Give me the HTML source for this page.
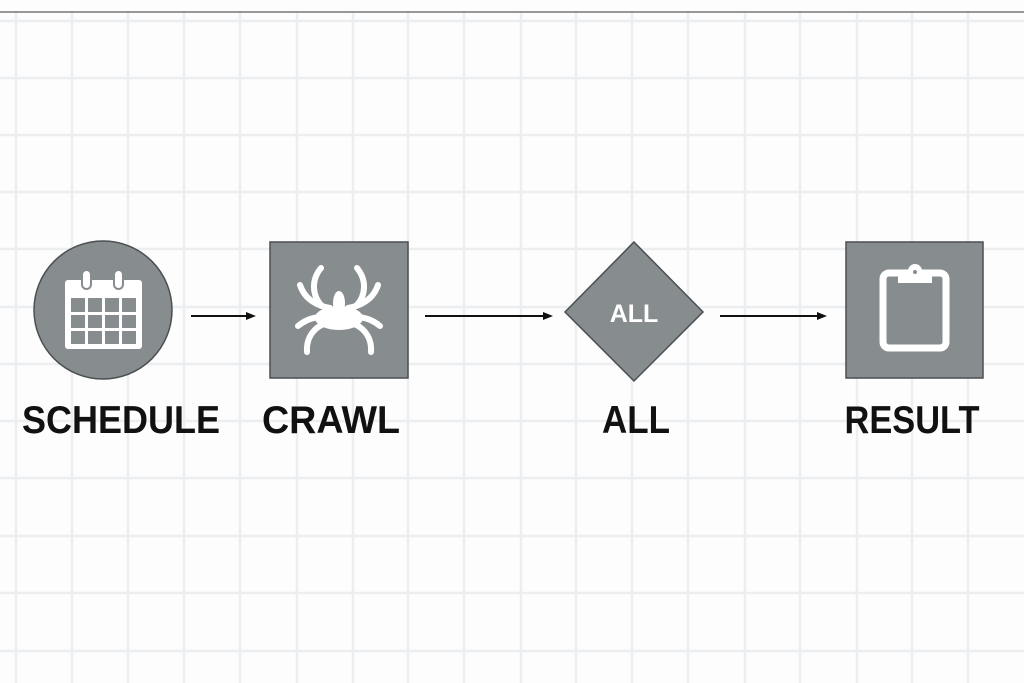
<!DOCTYPE html>
<html><head><style>
html,body{margin:0;padding:0;background:#fdfdfd;}
svg{display:block}
</style></head><body>
<svg width="1024" height="683" viewBox="0 0 1024 683" xmlns="http://www.w3.org/2000/svg">
<rect width="1024" height="683" fill="#fdfdfd"/>
<g stroke="#eceef0" stroke-width="2.5">
<line x1="16" y1="12" x2="16" y2="683"/><line x1="72" y1="12" x2="72" y2="683"/><line x1="128" y1="12" x2="128" y2="683"/><line x1="184" y1="12" x2="184" y2="683"/><line x1="240" y1="12" x2="240" y2="683"/><line x1="297" y1="12" x2="297" y2="683"/><line x1="353" y1="12" x2="353" y2="683"/><line x1="408" y1="12" x2="408" y2="683"/><line x1="464" y1="12" x2="464" y2="683"/><line x1="521" y1="12" x2="521" y2="683"/><line x1="576" y1="12" x2="576" y2="683"/><line x1="632" y1="12" x2="632" y2="683"/><line x1="688" y1="12" x2="688" y2="683"/><line x1="745" y1="12" x2="745" y2="683"/><line x1="800" y1="12" x2="800" y2="683"/><line x1="857" y1="12" x2="857" y2="683"/><line x1="912" y1="12" x2="912" y2="683"/><line x1="968" y1="12" x2="968" y2="683"/>
<line x1="0" y1="21" x2="1024" y2="21"/><line x1="0" y1="78" x2="1024" y2="78"/><line x1="0" y1="135" x2="1024" y2="135"/><line x1="0" y1="192" x2="1024" y2="192"/><line x1="0" y1="249" x2="1024" y2="249"/><line x1="0" y1="307" x2="1024" y2="307"/><line x1="0" y1="364" x2="1024" y2="364"/><line x1="0" y1="421" x2="1024" y2="421"/><line x1="0" y1="478" x2="1024" y2="478"/><line x1="0" y1="536" x2="1024" y2="536"/><line x1="0" y1="593" x2="1024" y2="593"/><line x1="0" y1="651" x2="1024" y2="651"/>
</g>
<line x1="0" y1="12" x2="1024" y2="12" stroke="#777" stroke-width="1.5"/>

<!-- schedule -->
<circle cx="103" cy="310" r="69" fill="#878d8f" stroke="#4a4f51" stroke-width="1.5"/>
<rect x="65" y="280" width="77" height="69" rx="3" fill="#fff"/>
<g fill="#878d8f">
<rect x="71" y="298" width="14" height="14"/><rect x="88" y="298" width="14" height="14"/><rect x="105" y="298" width="14" height="14"/><rect x="122" y="298" width="14" height="14"/>
<rect x="71" y="315" width="14" height="13"/><rect x="88" y="315" width="14" height="13"/><rect x="105" y="315" width="14" height="13"/><rect x="122" y="315" width="14" height="13"/>
<rect x="71" y="331" width="14" height="13"/><rect x="88" y="331" width="14" height="13"/><rect x="105" y="331" width="14" height="13"/><rect x="122" y="331" width="14" height="13"/>
</g>
<rect x="82" y="270" width="9" height="19" rx="4.5" fill="#fff" stroke="#878d8f" stroke-width="2"/>
<rect x="114" y="270" width="9" height="19" rx="4.5" fill="#fff" stroke="#878d8f" stroke-width="2"/>

<!-- crawl -->
<rect x="270" y="242" width="138" height="136" fill="#878d8f" stroke="#4a4f51" stroke-width="1.5"/>
<g fill="none" stroke="#fff" stroke-linecap="round">
<path d="M321 268 C311 280 312 296 322 306" stroke-width="6"/>
<path d="M357 268 C367 280 366 296 356 306" stroke-width="6"/>
<path d="M300 285 C305 300 318 306 330 308" stroke-width="6"/>
<path d="M378 285 C373 300 360 306 348 308" stroke-width="6"/>
<path d="M298 326 C310 316 322 316 332 318" stroke-width="6"/>
<path d="M380 326 C368 316 356 316 346 318" stroke-width="6"/>
<path d="M307 352 C306 336 316 324 332 322" stroke-width="6"/>
<path d="M371 352 C372 336 362 324 346 322" stroke-width="6"/>
</g>
<ellipse cx="339" cy="303" rx="6" ry="12" fill="#fff"/>
<ellipse cx="339" cy="318" rx="24" ry="12" fill="#fff"/>

<!-- all diamond -->
<polygon points="634,242 703,312 634,381 565,312" fill="#878d8f" stroke="#4a4f51" stroke-width="1.5"/>
<text x="634" y="322" text-anchor="middle" font-family="Liberation Sans, sans-serif" font-weight="bold" font-size="25" fill="#fff">ALL</text>

<!-- result -->
<rect x="846" y="242" width="137" height="136" fill="#878d8f" stroke="#4a4f51" stroke-width="1.5"/>
<rect x="883" y="273" width="63" height="75" rx="6" fill="none" stroke="#fff" stroke-width="7"/>
<path d="M898 271 h10 a7 7 0 0 1 14 0 h10 v12 h-34 z" fill="#fff"/>
<circle cx="915" cy="272" r="2" fill="#878d8f"/>

<!-- arrows -->
<g stroke="#111" stroke-width="2">
<line x1="191" y1="316" x2="248" y2="316"/>
<line x1="425" y1="316" x2="545" y2="316"/>
<line x1="720" y1="316" x2="819" y2="316"/>
</g>
<g fill="#111">
<polygon points="256,316 246,312 246,320"/>
<polygon points="553,316 543,312 543,320"/>
<polygon points="827,316 817,312 817,320"/>
</g>

<g font-family="Liberation Sans, sans-serif" font-weight="bold" font-size="39" fill="#111" text-anchor="middle">
<text x="121" y="433" textLength="198" lengthAdjust="spacingAndGlyphs">SCHEDULE</text>
<text x="331" y="433" textLength="138" lengthAdjust="spacingAndGlyphs">CRAWL</text>
<text x="636" y="433" textLength="68" lengthAdjust="spacingAndGlyphs">ALL</text>
<text x="912" y="433" textLength="135" lengthAdjust="spacingAndGlyphs">RESULT</text>
</g>
</svg>
</body></html>
